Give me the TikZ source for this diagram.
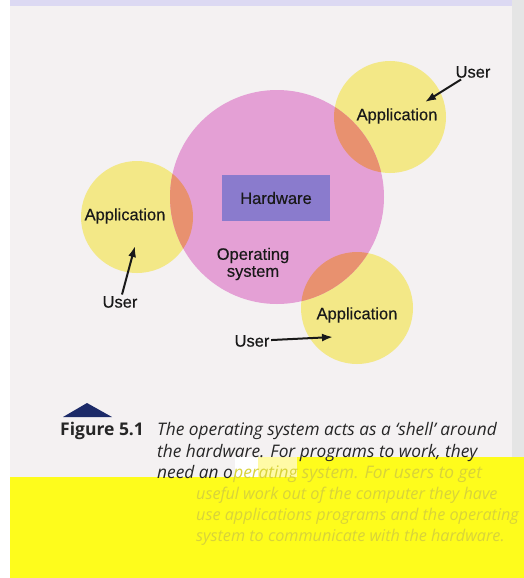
\documentclass[tikz,border=0pt]{standalone}
\usepackage{fontspec}
\usetikzlibrary{arrows.meta}
\setmainfont{Liberation Sans}
\newfontfamily\lblfont[FakeBold=0.4]{Liberation Sans}
\newfontfamily\capfont{Open Sans}
\definecolor{page}{HTML}{F4F1F2}
\definecolor{osPink}{HTML}{E4A0D5}
\definecolor{appYellow}{HTML}{F3E887}
\definecolor{overlap}{HTML}{E8916F}
\definecolor{hwBlue}{HTML}{8A7BCD}
\definecolor{hiYellow}{HTML}{FEFC1C}
\definecolor{fadeText}{HTML}{D8D33A}
\definecolor{navy}{HTML}{1C2A68}
\begin{document}
\begin{tikzpicture}[x=1pt,y=-1pt]
\tikzstyle{txt}=[font=\lblfont\fontsize{16.5}{19}\selectfont, text=black!90, inner sep=1.5pt, align=center]
\tikzstyle{pointer}=[-{Latex[length=11pt,width=8pt]}, line width=2pt, black!90]
\tikzstyle{app}=[circle, fill=appYellow, minimum size=112pt, inner sep=0pt]
\tikzstyle{capt}=[font=\capfont\itshape\fontsize{17.3}{20}\selectfont, inner sep=0pt, anchor=base west]
\tikzstyle{faint}=[capt, font=\capfont\itshape\fontsize{16.2}{20}\selectfont, text=fadeText]
\useasboundingbox (0,0) rectangle (524,578);
\fill[white] (0,0) rectangle (524,578);
\fill[page] (10,0) rectangle (512,578);
\fill[black!10] (512,0) rectangle (524,578);
\fill[blue!10!page] (10,0) rectangle (512,6);
\node[app] (appA) at (390,117) {};
\node[app] (appB) at (137,217) {};
\node[app] (appC) at (357,308) {};
\node[circle, fill=osPink, minimum size=214pt, inner sep=0pt] (os) at (277,197) {};
\begin{scope}
\clip (277,197) circle [radius=107pt];
\fill[overlap] (appA.center) circle [radius=56pt];
\fill[overlap] (appB.center) circle [radius=56pt];
\fill[overlap] (appC.center) circle [radius=56pt];
\end{scope}
\node[txt, fill=hwBlue, minimum width=108pt, minimum height=46pt] (hw) at (276,198) {Hardware};
\node[txt] (ostext) at (253,264) {Operating\\[-2pt]system};
\node[txt] (appAtext) at (397,116) {Application};
\node[txt] (appBtext) at (125,216) {Application};
\node[txt] (appCtext) at (357,315) {Application};
\node[txt] (userA) at (473,72) {User};
\node[txt] (userB) at (120,302) {User};
\node[txt] (userC) at (252,341) {User};
\coordinate (tipA) at (425,102);
\coordinate (tipB) at (135,246);
\coordinate (tipC) at (333,337);
\draw[pointer] (userA) -- (tipA);
\draw[pointer] (userB) -- (tipB);
\draw[pointer] (userC) -- (tipC);
\fill[hiYellow] (10,477) -- (297,477) -- (297,457) -- (524,457) -- (524,578) -- (10,578) -- cycle;
\fill[white] (235,457) rectangle (258,477);
\fill[yellow!35] (258,457) rectangle (297,477);
\fill[navy] (63,417) -- (112,417) -- (87,403) -- cycle;
\node[inner sep=0pt, anchor=base west, font=\capfont\bfseries\fontsize{17.5}{20}\selectfont, text=black!85] (fig) at (60,435) {Figure 5.1};
\node[capt, text=black!85] (capA) at (157,435) {The operating system acts as a ‘shell’ around};
\node[capt, text=black!85] (capB) at (157,457) {the hardware. For programs to work, they};
\node[capt, text=black!85] (capC) at (157,478) {need an o};
\node[capt, text=fadeText] (capD) at (capC.base east) {perating system. For users to get};
\node[faint] (capE) at (196,499) {useful work out of the computer they have};
\node[faint] (capF) at (196,520) {use applications programs and the operating};
\node[faint] (capG) at (196,541) {system to communicate with the hardware.};
\end{tikzpicture}
\end{document}
